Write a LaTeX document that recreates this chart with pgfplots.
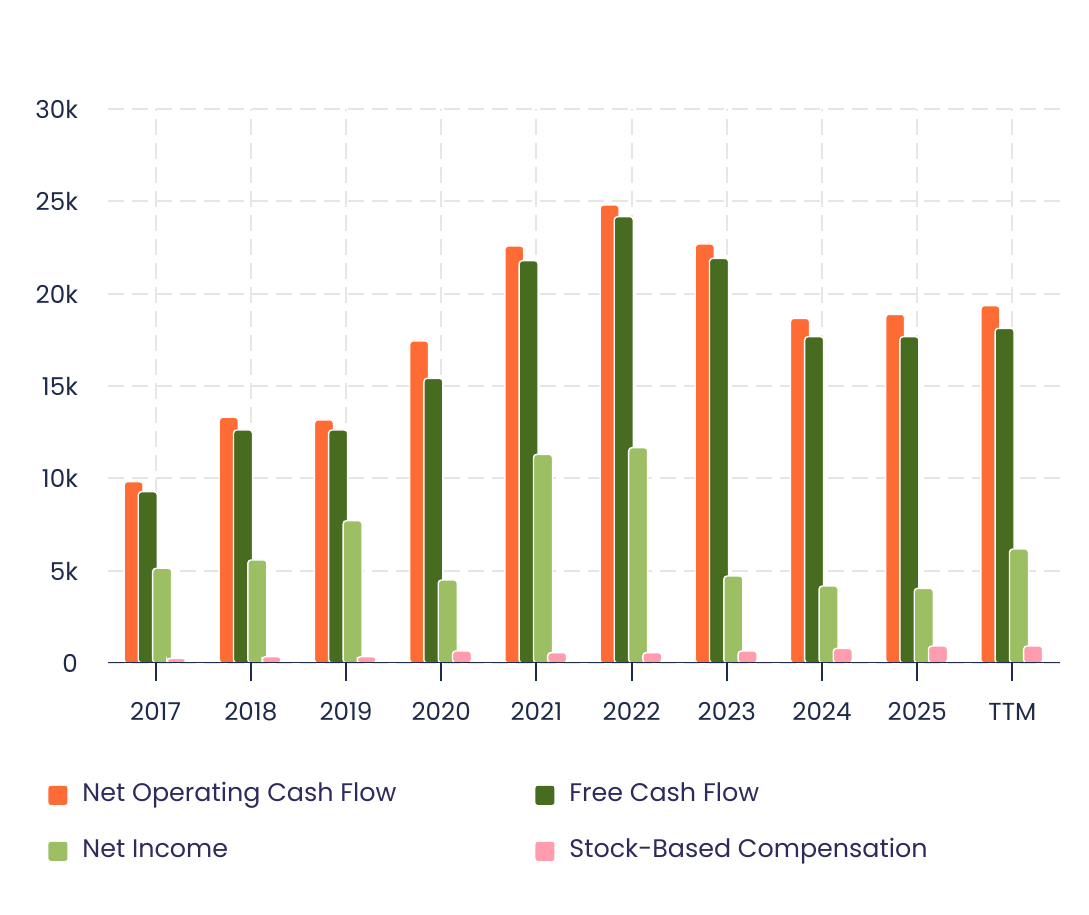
\documentclass[border=0pt]{standalone}
\usepackage{pgfplots}
\pgfplotsset{compat=1.18}
\usepackage{fontspec}
\setmainfont{Poppins}
\definecolor{cOrange}{HTML}{FF6B35}
\definecolor{cDark}{HTML}{476B1F}
\definecolor{cLight}{HTML}{9BBF62}
\definecolor{cPink}{HTML}{FF9CAE}
\definecolor{cNavy}{HTML}{1E2A48}
\definecolor{cLeg}{HTML}{2E2B5C}
\definecolor{cGrid}{HTML}{E6E6E6}
\begin{document}
\begin{tikzpicture}
\path (0,0) rectangle (544.5pt,457.5pt);
\begin{axis}[
  at={(54pt,126pt)}, anchor=south west,
  scale only axis, width=476pt, height=277pt,
  xmin=-0.5, xmax=9.5, ymin=0, ymax=30000,
  ybar, bar width=9.5pt,
  axis line style={draw=none},
  xtick pos=lower, ytick pos=left,
  xtick={0,...,9},
  xticklabels={2017,2018,2019,2020,2021,2022,2023,2024,2025,TTM},
  ytick={0,5000,10000,15000,20000,25000,30000},
  yticklabels={0,5k,10k,15k,20k,25k,30k},
  scaled y ticks=false,
  tick align=outside, major tick length=9pt,
  xtick style={draw=cNavy, line width=1pt},
  ytick style={draw=none},
  ymajorgrids, xmajorgrids,
  major grid style={cGrid, line width=1pt, dash pattern=on 8pt off 4pt},
  tick label style={font=\fontsize{12.3}{14}\selectfont, text=cNavy},
  yticklabel style={anchor=east, xshift=-2.5pt, yshift=-0.5pt, text height=8.5pt, text depth=0pt},
  xticklabel style={yshift=-7.5pt, text height=8.5pt, text depth=0pt},
  /pgf/number format/assume math mode=true,
  every axis plot/.append style={draw=white, line width=0.7pt, rounded corners=1.6pt},
  legend columns=2,
  legend cell align=left,
  legend style={at={(-0.063,-0.2165)}, anchor=north west, draw=none, fill=none,
    inner sep=0pt, row sep=16pt,
    font=\fontsize{12.7}{14}\selectfont, text=cLeg,
    nodes={inner sep=0pt, text height=9pt, text depth=3pt},
    /tikz/every odd column/.append style={column sep=7.5pt}},
  legend image code/.code={\fill[#1,draw=none,rounded corners=1.2pt] (0pt,-4.75pt) rectangle (9.5pt,4.75pt);},
]
\addplot[fill=cOrange, bar shift=-11pt] coordinates {(0,9818) (1,13305) (2,13159) (3,17437) (4,22581) (5,24801) (6,22690) (7,18664) (8,18881) (9,19350)};
\addlegendentry{\makebox[226.5pt][l]{Net Operating Cash Flow}}
\addplot[fill=cDark, bar shift=-3.9pt] coordinates {(0,9276) (1,12617) (2,12617) (3,15415) (4,21787) (5,24170) (6,21914) (7,17671) (8,17671) (9,18123)};
\addlegendentry{Free Cash Flow}
\addplot[fill=cLight, bar shift=3.3pt] coordinates {(0,5128) (1,5578) (2,7706) (3,4495) (4,11300) (5,11661) (6,4711) (7,4170) (8,4044) (9,6173)};
\addlegendentry{\makebox[226.5pt][l]{Net Income}}
\addplot[fill=cPink, bar shift=10.4pt] coordinates {(0,254) (1,343) (2,343) (3,650) (4,560) (5,560) (6,650) (7,794) (8,920) (9,920)};
\addlegendentry{Stock-Based Compensation}
\draw[cNavy, line width=1pt] (axis cs:-0.5,0) -- (axis cs:9.5,0);
\end{axis}
\end{tikzpicture}
\end{document}
